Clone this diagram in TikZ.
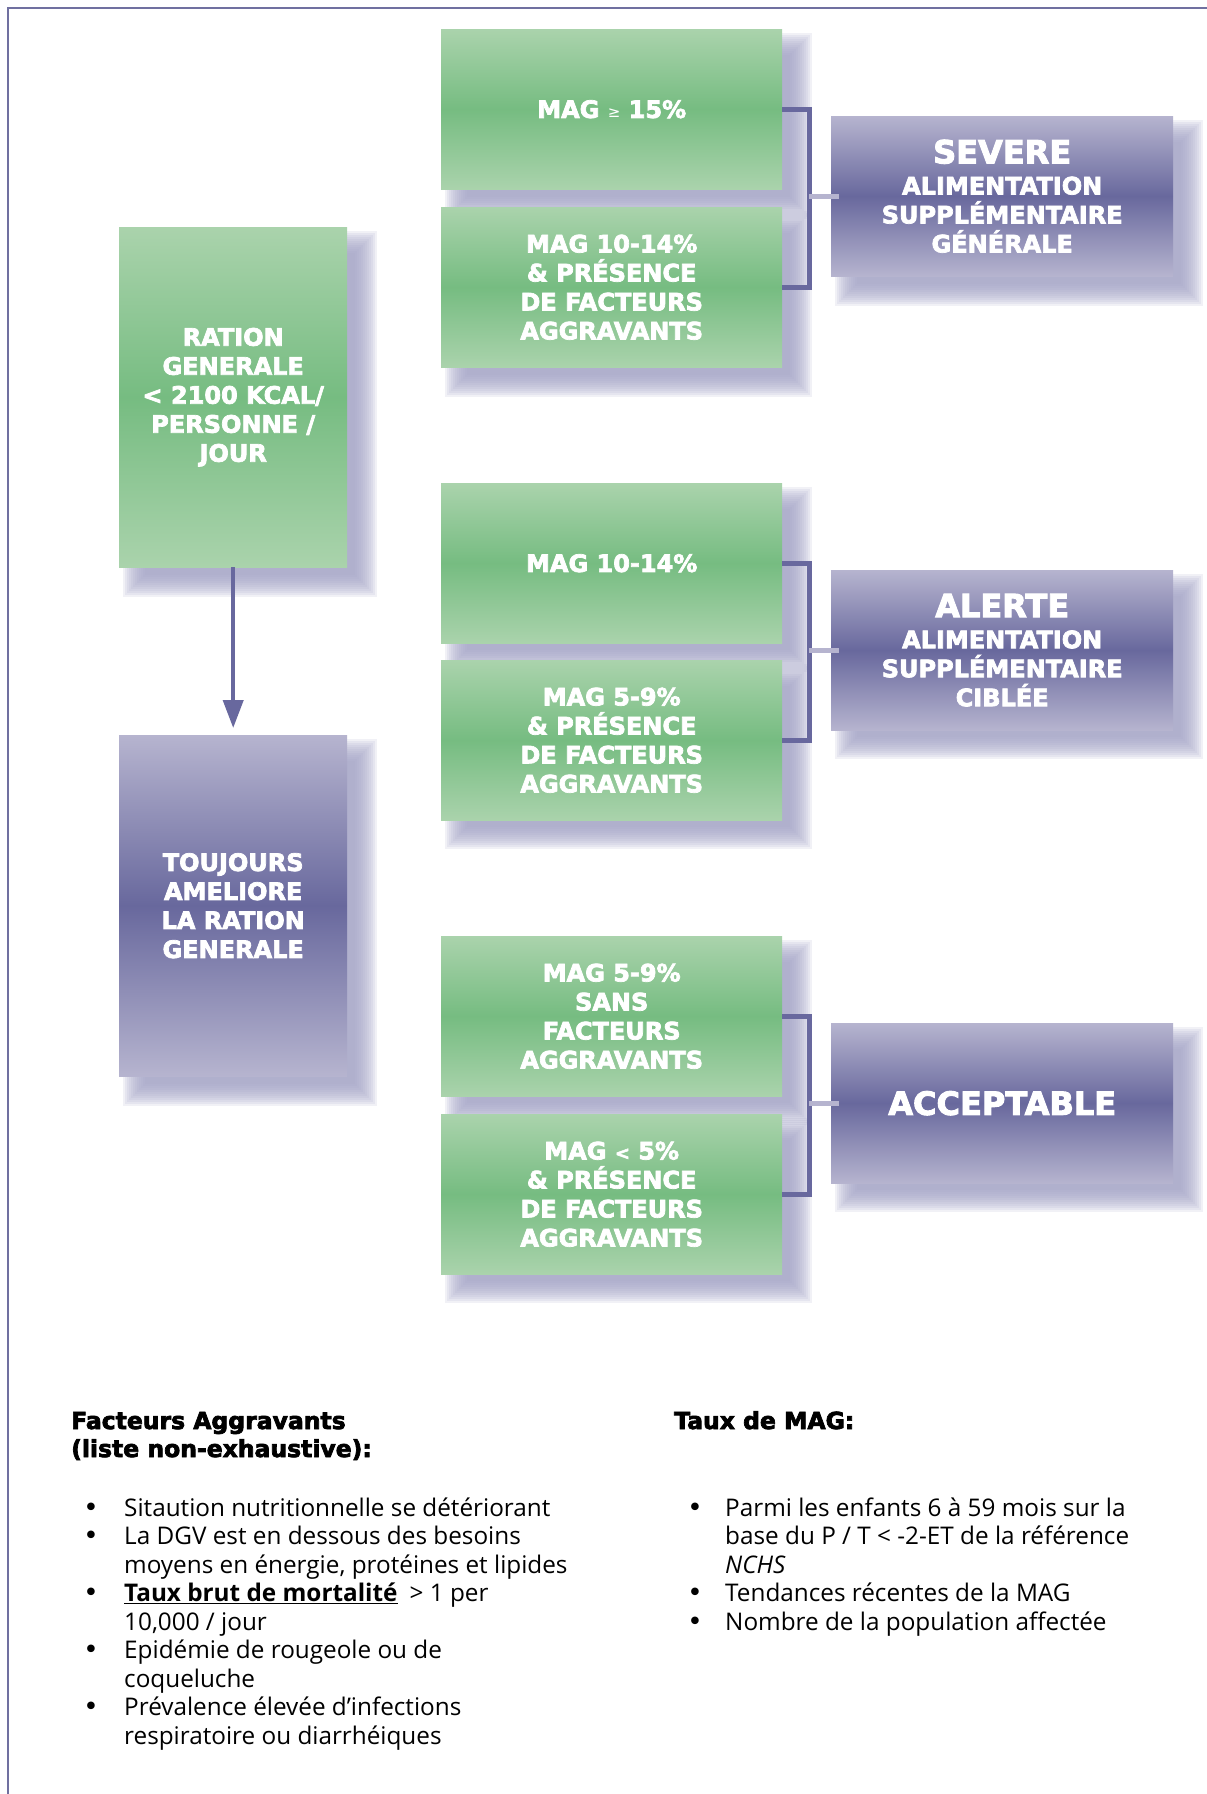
\documentclass[tikz,border=0pt]{standalone}
\usepackage{fontspec}
\setmainfont{Open Sans}
\newfontfamily\boxfont{DejaVu Sans}[BoldFeatures={FakeBold=3}]
\newfontfamily\bulfont{DejaVu Sans}
\usetikzlibrary{arrows.meta}
\definecolor{gTop}{RGB}{170,211,172}
\definecolor{gMid}{RGB}{118,188,129}
\definecolor{pTop}{RGB}{182,180,207}
\definecolor{pMid}{RGB}{104,104,157}
\definecolor{shad}{RGB}{166,166,200}
\definecolor{lineC}{RGB}{104,104,158}
\definecolor{stubC}{RGB}{182,180,207}
\definecolor{frameC}{RGB}{112,112,160}
\tikzset{
  box/.style={anchor=north west, inner sep=0pt, align=center, text=white,
    font=\boxfont\bfseries\fontsize{24}{29}\selectfont},
  greenbox/.style={box, top color=gTop, bottom color=gTop, middle color=gMid,
    minimum width=341pt, minimum height=160pt},
  purplebox/.style={box, top color=pTop, bottom color=pTop, middle color=pMid,
    minimum width=342pt, minimum height=160pt},
  tallgreen/.style={greenbox, minimum width=228pt, minimum height=340pt},
  tallpurple/.style={purplebox, minimum width=228pt, minimum height=341pt},
  bracket/.style={draw=lineC, line width=5pt, line join=miter},
  stubline/.style={draw=stubC, line width=5pt},
  arrowline/.style={draw=lineC, line width=4pt, -{Triangle[width=20pt,length=28pt]}},
  frameline/.style={draw=frameC, line width=2.5pt},
  hdr/.style={anchor=base west, inner sep=0pt, font=\boxfont\bfseries\fontsize{23.5}{28}\selectfont},
  listtxt/.style={anchor=base west, inner sep=0pt, font=\fontsize{24.3}{28}\selectfont},
  bul/.style={anchor=base, inner sep=0pt, font=\bulfont\fontsize{26}{28}\selectfont}
}
\newcommand\bigtitle[1]{{\fontsize{32}{34}\selectfont #1}\\[2pt]}
\begin{document}
\begin{tikzpicture}[x=1pt, y=-1pt]
\useasboundingbox (0,0) rectangle (1207,1794);
\fill[white] (0,0) rectangle (1207,1794);
\draw[frameline] (1207,8) -- (8,8) -- (8,1794);

% soft shadows behind the boxes
\foreach \nm/\xa/\ya/\xb/\yb in {
  r/119/227/347/567, t/119/735/347/1076,
  a/441/29/782/189, b/441/207/782/367,
  c/441/483/782/642, d/441/660/782/819,
  e/441/936/782/1095, f/441/1114/782/1273,
  p/831/116/1173/276, q/831/570/1173/729, s/831/1023/1173/1182}{
  \coordinate (sw\nm) at (\xa,\yb);
  \coordinate (ne\nm) at (\xb,\ya);
}
\foreach \nm in {r,t,a,b,c,d,e,f,p,q,s}{
  \foreach \i in {0,...,11}{
    \fill[shad, opacity=0.15]
      ([shift={({(4+2*\i)*1pt},{(-30+2*\i)*1pt})}]sw\nm)
      rectangle
      ([shift={({(30-2*\i)*1pt},{(-4-2*\i)*1pt})}]ne\nm);
  }
}

% boxes
\node[tallgreen] (ration) at (119,227) {RATION\\GENERALE\\< 2100 KCAL/\\PERSONNE /\\JOUR};
\node[tallpurple] (toujours) at (119,735) {TOUJOURS\\AMELIORE\\LA RATION\\GENERALE};

\node[greenbox] (g1) at (441,29) {MAG {\fontsize{15}{15}\selectfont\mdseries ≥} 15\%};
\node[greenbox] (g2) at (441,207) {MAG 10-14\%\\\& PRÉSENCE\\DE FACTEURS\\AGGRAVANTS};
\node[greenbox] (g3) at (441,483) {MAG 10-14\%};
\node[greenbox] (g4) at (441,660) {MAG 5-9\%\\\& PRÉSENCE\\DE FACTEURS\\AGGRAVANTS};
\node[greenbox] (g5) at (441,936) {MAG 5-9\%\\SANS\\FACTEURS\\AGGRAVANTS};
\node[greenbox] (g6) at (441,1114) {MAG {\fontsize{18}{18}\selectfont <} 5\%\\\& PRÉSENCE\\DE FACTEURS\\AGGRAVANTS};

\node[purplebox] (p1) at (831,116) {\bigtitle{SEVERE}ALIMENTATION\\SUPPLÉMENTAIRE\\GÉNÉRALE};
\node[purplebox] (p2) at (831,570) {\bigtitle{ALERTE}ALIMENTATION\\SUPPLÉMENTAIRE\\CIBLÉE};
\node[purplebox] (p3) at (831,1023) {{\fontsize{32}{34}\selectfont ACCEPTABLE}};

% connectors
\draw[arrowline] (ration.south) -- ([yshift=7pt]toujours.north);
\draw[bracket] (g1.east) -- ++(27,0) |- (g2.east);
\draw[bracket] (g3.east) -- ++(27,0) |- (g4.east);
\draw[bracket] (g5.east) -- ++(27,0) |- (g6.east);
\draw[stubline] ([xshift=-22pt]p1.west) -- ([xshift=8pt]p1.west);
\draw[stubline] ([xshift=-22pt]p2.west) -- ([xshift=8pt]p2.west);
\draw[stubline] ([xshift=-22pt]p3.west) -- ([xshift=8pt]p3.west);

% bottom text
\node[hdr] (h1) at (71,1429) {Facteurs Aggravants};
\node[hdr] (h2) at (71,1457) {(liste non-exhaustive):};
\node[hdr] (h3) at (674,1429) {Taux de MAG:};

\node[bul] (bl1) at (91,1516) {•};
\node[listtxt] (l1) at (124,1516) {Sitaution nutritionnelle se détériorant};
\node[bul] (bl2) at (91,1544.5) {•};
\node[listtxt] (l2) at (124,1544.5) {La DGV est en dessous des besoins};
\node[listtxt] (l3) at (124,1573) {moyens en énergie, protéines et lipides};
\node[bul] (bl3) at (91,1601.5) {•};
\node[listtxt] (l4) at (124,1601.5) {\underline{\textbf{Taux brut de mortalité}}\enspace> 1 per};
\node[listtxt] (l5) at (124,1630) {10,000 / jour};
\node[bul] (bl4) at (91,1658.5) {•};
\node[listtxt] (l6) at (124,1658.5) {Epidémie de rougeole ou de};
\node[listtxt] (l7) at (124,1687) {coqueluche};
\node[bul] (bl5) at (91,1715.5) {•};
\node[listtxt] (l8) at (124,1715.5) {Prévalence élevée d’infections};
\node[listtxt] (l9) at (124,1744) {respiratoire ou diarrhéiques};

\node[bul] (br1) at (695,1516) {•};
\node[listtxt] (r1) at (725,1516) {Parmi les enfants 6 à 59 mois sur la};
\node[listtxt] (r2) at (725,1544.5) {base du P / T < -2-ET de la référence};
\node[listtxt] (r3) at (725,1573) {\textit{NCHS}};
\node[bul] (br2) at (695,1601.5) {•};
\node[listtxt] (r4) at (725,1601.5) {Tendances récentes de la MAG};
\node[bul] (br3) at (695,1630) {•};
\node[listtxt] (r5) at (725,1630) {Nombre de la population affectée};
\end{tikzpicture}
\end{document}
